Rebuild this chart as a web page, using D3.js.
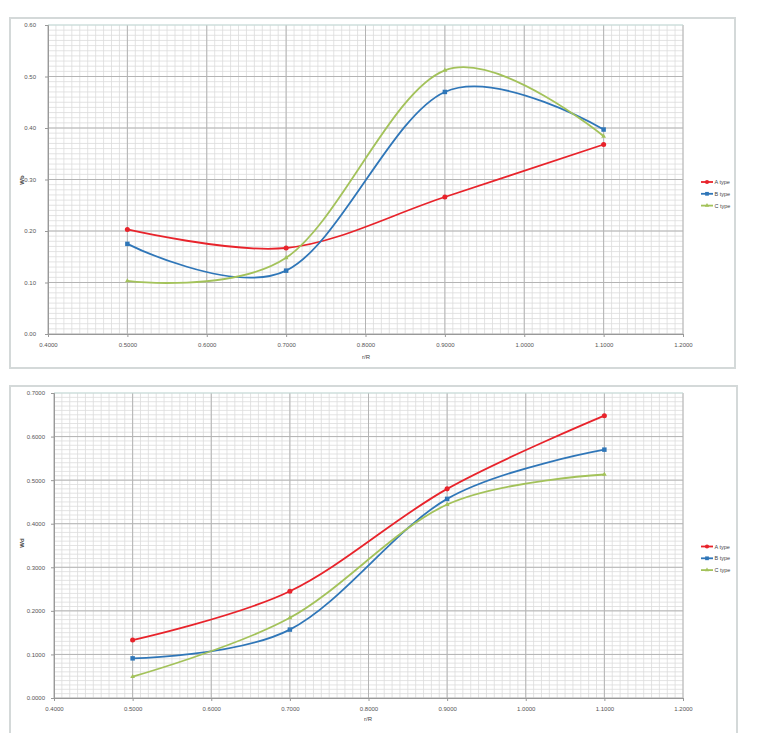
<!DOCTYPE html>
<html><head><meta charset="utf-8">
<script src="https://cdn.jsdelivr.net/npm/d3@7"></script>
<style>
html,body{margin:0;padding:0;background:#fff;}
svg{display:block;font-family:"Liberation Sans",Arial,sans-serif;}
</style></head>
<body><svg id="c" width="768" height="733"></svg>
<script>
// ---- data ----
const xValues = [0.5, 0.7, 0.9, 1.1];
const seriesNames = ["A type", "B type", "C type"];
const wbA = [0.203, 0.167, 0.266, 0.368];
const wbB = [0.175, 0.123, 0.470, 0.397];
const wbC = [0.103, 0.148, 0.512, 0.384];
const wdA = [0.133, 0.245, 0.480, 0.648];
const wdB = [0.091, 0.157, 0.457, 0.570];
const wdC = [0.049, 0.184, 0.444, 0.513];
const xTicks = [0.4, 0.5, 0.6, 0.7, 0.8, 0.9, 1.0, 1.1, 1.2];
const wbTicks = [0, 0.1, 0.2, 0.3, 0.4, 0.5, 0.6];
const wdTicks = [0, 0.1, 0.2, 0.3, 0.4, 0.5, 0.6, 0.7];
const xTitle = "r/R";
const wbTitle = "Wb";
const wdTitle = "Wd";

const colors = ["#e8232b", "#2f76b8", "#a3c25a"];
const shapes = [d3.symbolCircle, d3.symbolSquare, d3.symbolTriangle];
const svg = d3.select("#c");

function drawChart(cfg) {
  const g = svg.append("g");
  // outer frame
  g.append("rect").attr("x", cfg.frame[0]).attr("y", cfg.frame[1])
    .attr("width", cfg.frame[2]).attr("height", cfg.frame[3])
    .attr("fill", "#fff").attr("stroke", "#d4d9d9").attr("stroke-width", 2);

  const x = d3.scaleLinear().domain([0.4, 1.2]).range([cfg.plot[0], cfg.plot[1]]);
  const y = d3.scaleLinear().domain([0, cfg.yMax]).range([cfg.plot[3], cfg.plot[2]]);

  // minor grid
  const xMinor = d3.range(0, 81).map(i => 0.4 + i * 0.01);
  const yMinor = d3.range(0, Math.round(cfg.yMax / 0.01) + 1).map(i => i * 0.01);
  g.append("g").selectAll("line").data(xMinor).join("line")
    .attr("x1", d => x(d)).attr("x2", d => x(d))
    .attr("y1", y(0)).attr("y2", y(cfg.yMax))
    .attr("stroke", "#dcdcdc").attr("stroke-width", 0.8);
  g.append("g").selectAll("line").data(yMinor).join("line")
    .attr("x1", x(0.4)).attr("x2", x(1.2))
    .attr("y1", d => y(d)).attr("y2", d => y(d))
    .attr("stroke", "#dcdcdc").attr("stroke-width", 0.8);
  // major grid
  g.append("g").selectAll("line").data(xTicks).join("line")
    .attr("x1", d => x(d)).attr("x2", d => x(d))
    .attr("y1", y(0)).attr("y2", y(cfg.yMax))
    .attr("stroke", "#b4b4b4").attr("stroke-width", 1);
  g.append("g").selectAll("line").data(cfg.yTicks).join("line")
    .attr("x1", x(0.4)).attr("x2", x(1.2))
    .attr("y1", d => y(d)).attr("y2", d => y(d))
    .attr("stroke", d => d === cfg.yMax ? "#c3dcd8" : "#b4b4b4").attr("stroke-width", 1);

  // axes
  const xa = g.append("g").attr("transform", `translate(0,${y(0)})`)
    .call(d3.axisBottom(x).tickValues(xTicks).tickFormat(d3.format(".4f")).tickSize(3).tickPadding(6));
  const ya = g.append("g").attr("transform", `translate(${x(0.4)},0)`)
    .call(d3.axisLeft(y).tickValues(cfg.yTicks).tickFormat(d3.format(cfg.yFmt)).tickSize(3).tickPadding(cfg.yPad));
  [xa, ya].forEach(a => {
    a.select(".domain").attr("stroke", "#999");
    a.selectAll(".tick line").attr("stroke", "#999");
    a.selectAll("text").attr("fill", "#555").attr("font-size", 6);
  });

  // titles
  g.append("text").attr("x", cfg.xTitlePos[0]).attr("y", cfg.xTitlePos[1])
    .attr("text-anchor", "middle").attr("font-size", 6).attr("fill", "#444").text(xTitle);
  g.append("text").attr("transform", `translate(${cfg.yTitlePos[0]},${cfg.yTitlePos[1]}) rotate(-90)`)
    .attr("text-anchor", "middle").attr("font-size", 6).attr("font-weight", "bold").attr("fill", "#444").text(cfg.yTitle);

  // series
  const line = d3.line().x((d, i) => x(xValues[i])).y(d => y(d)).curve(d3.curveCatmullRom.alpha(0));
  cfg.series.forEach((s, k) => {
    g.append("path").attr("d", line(s)).attr("fill", "none")
      .attr("stroke", colors[k]).attr("stroke-width", 1.8);
    g.append("g").selectAll("path").data(s).join("path")
      .attr("transform", (d, i) => `translate(${x(xValues[i])},${y(d)})`)
      .attr("d", d3.symbol().type(shapes[k]).size(k === 2 ? 10 : 20))
      .attr("fill", colors[k]);
  });

  // legend
  seriesNames.forEach((n, k) => {
    const ly = cfg.legend[1] + k * 11.8;
    const lx = cfg.legend[0];
    g.append("line").attr("x1", lx).attr("x2", lx + 12).attr("y1", ly).attr("y2", ly)
      .attr("stroke", colors[k]).attr("stroke-width", 1.8);
    g.append("path").attr("transform", `translate(${lx + 6},${ly})`)
      .attr("d", d3.symbol().type(shapes[k]).size(k === 2 ? 8 : 14)).attr("fill", colors[k]);
    g.append("text").attr("x", lx + 13.5).attr("y", ly + 2).attr("font-size", 5.5)
      .attr("fill", "#444").text(n);
  });
}

drawChart({
  frame: [10, 18, 725, 350],
  plot: [48, 683, 25, 334],
  yMax: 0.6, yTicks: wbTicks, yFmt: ".2f", yPad: 9,
  yTitle: wbTitle, yTitlePos: [24, 180], xTitlePos: [366, 359],
  series: [wbA, wbB, wbC],
  legend: [701, 182]
});
drawChart({
  frame: [10, 386, 727, 360],
  plot: [54, 683, 393, 698],
  yMax: 0.7, yTicks: wdTicks, yFmt: ".4f", yPad: 6,
  yTitle: wdTitle, yTitlePos: [24, 543], xTitlePos: [368, 721],
  series: [wdA, wdB, wdC],
  legend: [701, 546.5]
});
</script></body></html>
